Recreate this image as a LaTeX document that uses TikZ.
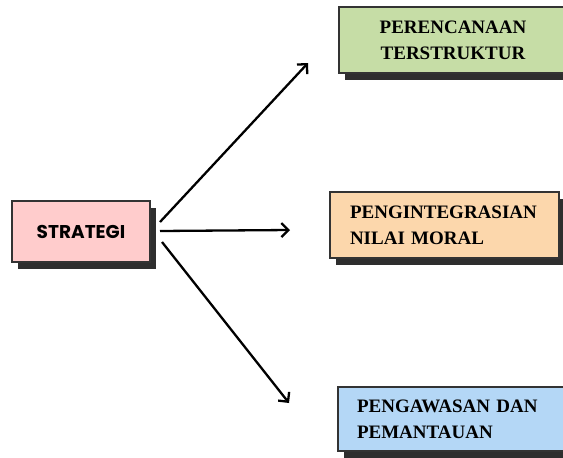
\documentclass[tikz,border=0pt]{standalone}
\usepackage{fontspec}
\setmainfont{Liberation Serif}
\newfontfamily\popfont{Poppins}
\usetikzlibrary{arrows.meta,shadows}
\definecolor{pinkfill}{HTML}{FFCCCC}
\definecolor{greenfill}{HTML}{C6DDA6}
\definecolor{peachfill}{HTML}{FCD7AC}
\definecolor{bluefill}{HTML}{B4D7F6}
\definecolor{shadowgray}{HTML}{2E2E2E}
\definecolor{edgegray}{HTML}{333333}
\begin{document}
\begin{tikzpicture}[x=1pt,y=-1pt,
  box/.style={draw=edgegray,line width=1.1pt,rectangle,inner ysep=0pt,
    drop shadow={shadow xshift=6pt,shadow yshift=-7pt,fill=shadowgray,opacity=1}},
  sertext/.style={font=\fontsize{19}{26}\selectfont\bfseries},
  arr/.style={line width=2.3pt,-{Straight Barb[length=7pt,width=14pt,line width=2.3pt]}}]
\useasboundingbox (0,0) rectangle (563,458);
\clip (0,0) rectangle (563,458);
\node[box,fill=pinkfill,minimum width=138pt,minimum height=61pt,
  font=\popfont\fontsize{18.5}{22}\selectfont\bfseries] (strat) at (81,231.5) {STRATEGI};
\node[box,fill=greenfill,sertext,minimum height=66pt,text width=228pt,inner xsep=0pt,align=center]
  (plan) at (453,40) {PERENCANAAN\\TERSTRUKTUR};
\node[box,fill=peachfill,sertext,minimum height=66pt,text width=189pt,inner xsep=20pt,align=left]
  (integ) at (444.5,225) {PENGINTEGRASIAN\\NILAI MORAL};
\node[box,fill=bluefill,sertext,minimum height=64pt,text width=199pt,inner xsep=19pt,align=left]
  (awas) at (456.5,419) {PENGAWASAN DAN\\PEMANTAUAN};
\coordinate (s1) at (160,222);
\coordinate (s2) at (160,231);
\coordinate (s3) at (162,242);
\coordinate (e1) at (308,63);
\coordinate (e2) at (290,230);
\coordinate (e3) at (289,403);
\draw[arr] (s1) -- (e1);
\draw[arr] (s2) -- (e2);
\draw[arr] (s3) -- (e3);
\end{tikzpicture}
\end{document}
